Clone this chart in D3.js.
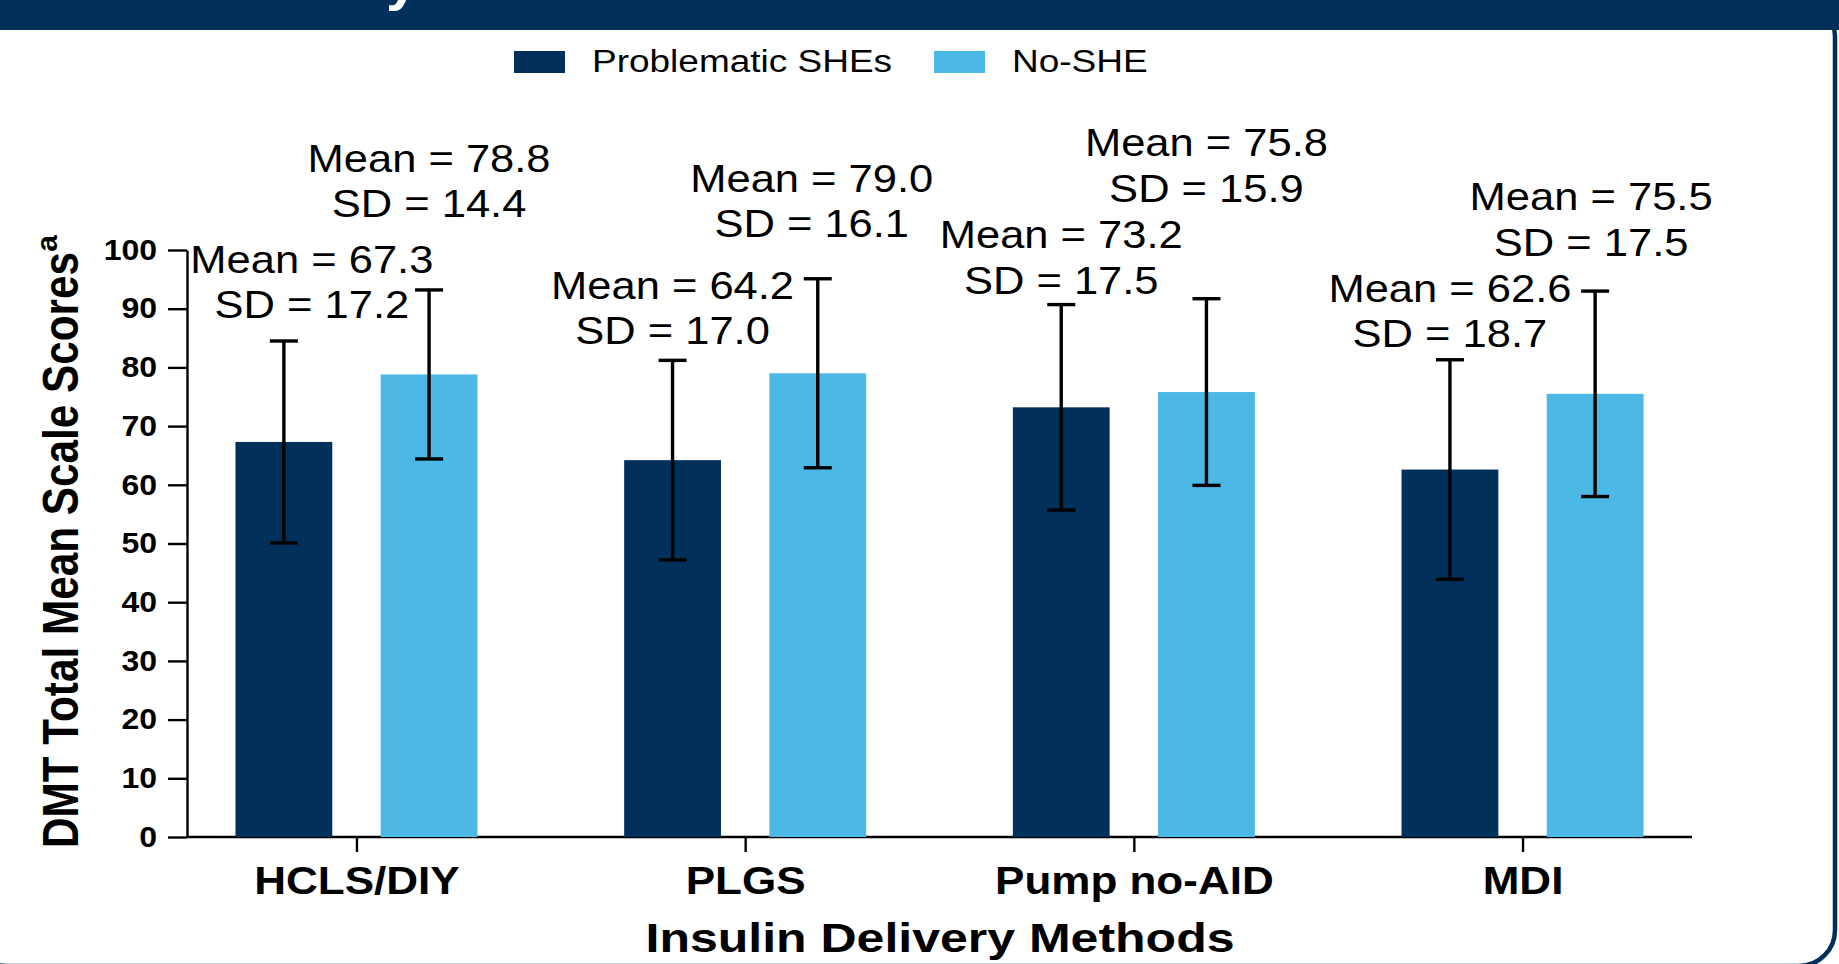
<!DOCTYPE html>
<html>
<head>
<meta charset="utf-8">
<script src="https://cdnjs.cloudflare.com/ajax/libs/d3/7.8.5/d3.min.js"></script>
<style>
  body { margin: 0; background: #fff; }
  svg { display: block; font-family: "Liberation Sans", Arial, Helvetica, sans-serif; }
  .axis path, .axis line { stroke: #000; stroke-width: 2.4; }
</style>
</head>
<body>
<svg id="chart" width="1839" height="964"></svg>
<script>
// data
var categories = ["HCLS/DIY", "PLGS", "Pump no-AID", "MDI"];
var groups = ["Problematic SHEs", "No-SHE"];
var sheMean = [67.3, 64.2, 73.2, 62.6];
var sheSD = [17.2, 17.0, 17.5, 18.7];
var noSheMean = [78.8, 79.0, 75.8, 75.5];
var noSheSD = [14.4, 16.1, 15.9, 17.5];
var yTicks = [0, 10, 20, 30, 40, 50, 60, 70, 80, 90, 100];

var navy = "#01305a", sky = "#4cb8e6";
var colors = [navy, sky];

// where the Mean/SD annotations sit (value of the first baseline) and nudges in px
var labelAt = [[96.1, 91.7, 100.3, 91.2], [113.3, 109.9, 116.0, 106.8]];
var labelDx = [[28, 0, 0, 0], [0, -6, 0, -4]];

var rows = [];
categories.forEach(function(c, i) {
    rows.push({cat: c, g: 0, mean: sheMean[i], sd: sheSD[i], i: i});
    rows.push({cat: c, g: 1, mean: noSheMean[i], sd: noSheSD[i], i: i});
});

// text looks a little flattened in the original, so shrink height and stretch width back
function squash(sel, px, k) {
    sel.style("font-size", (px * k) + "px").each(function() {
        var L = this.getComputedTextLength();
        d3.select(this).attr("textLength", L / k).attr("lengthAdjust", "spacingAndGlyphs");
    });
}

var svg = d3.select("#chart");

// panel frame + header band
svg.append("rect")
    .attr("x", -30).attr("y", 0)
    .attr("width", 1865).attr("height", 966)
    .attr("rx", 36)
    .attr("fill", "none").attr("stroke", navy).attr("stroke-width", 4.5);
svg.append("rect").attr("x", 0).attr("y", 0).attr("width", 1839).attr("height", 30).attr("fill", navy);
// tail of the cut-off title
svg.append("text").attr("x", 386).attr("y", -1)
    .attr("fill", "#fff").style("font-weight", "bold").style("font-size", "58px").text("y");

var x = d3.scalePoint().domain(categories).range([187, 1692]).padding(0.436);
var xg = d3.scaleBand().domain([0, 1]).range([-121, 121]).paddingInner(1 / 3);
var y = d3.scaleLinear().domain([0, 100]).range([837, 250]);

// axes
var yAxis = svg.append("g").attr("class", "axis")
    .attr("transform", "translate(187,0)")
    .call(d3.axisLeft(y).tickValues(yTicks).tickSize(19).tickPadding(11).tickSizeOuter(0));
yAxis.selectAll("text").style("font-weight", "bold").attr("fill", "#000");
squash(yAxis.selectAll("text"), 32, 0.9);

var xAxis = svg.append("g").attr("class", "axis")
    .attr("transform", "translate(0,837)")
    .call(d3.axisBottom(x).tickSize(15).tickSizeOuter(0));
xAxis.select(".domain").attr("d", "M187,0H1692");
xAxis.selectAll("text").attr("dy", 0).attr("y", 57)
    .style("font-weight", "bold").attr("fill", "#000");
squash(xAxis.selectAll("text"), 44, 0.89);

// bars
svg.selectAll(".bar")
    .data(rows)
  .enter().append("rect")
    .attr("class", "bar")
    .attr("x", function(d) { return x(d.cat) + xg(d.g); })
    .attr("width", xg.bandwidth())
    .attr("y", function(d) { return y(d.mean); })
    .attr("height", function(d) { return y(0) - y(d.mean); })
    .attr("fill", function(d) { return colors[d.g]; });

// error bars
var cx = function(d) { return x(d.cat) + xg(d.g) + xg.bandwidth() / 2; };
var err = svg.append("g").attr("stroke", "#000").attr("stroke-width", 3.4);
err.selectAll(".stem").data(rows).enter().append("line")
    .attr("x1", cx).attr("x2", cx)
    .attr("y1", function(d) { return y(d.mean + d.sd); })
    .attr("y2", function(d) { return y(d.mean - d.sd); });
err.selectAll(".capT").data(rows).enter().append("line")
    .attr("x1", function(d) { return cx(d) - 14; }).attr("x2", function(d) { return cx(d) + 14; })
    .attr("y1", function(d) { return y(d.mean + d.sd); })
    .attr("y2", function(d) { return y(d.mean + d.sd); });
err.selectAll(".capB").data(rows).enter().append("line")
    .attr("x1", function(d) { return cx(d) - 14; }).attr("x2", function(d) { return cx(d) + 14; })
    .attr("y1", function(d) { return y(d.mean - d.sd); })
    .attr("y2", function(d) { return y(d.mean - d.sd); });

// annotations
var ann = svg.append("g").attr("text-anchor", "middle").attr("fill", "#000");
var meanText = ann.selectAll(".mean").data(rows).enter().append("text")
    .attr("x", function(d) { return cx(d) + labelDx[d.g][d.i]; })
    .attr("y", function(d) { return y(labelAt[d.g][d.i]); })
    .text(function(d) { return "Mean = " + d.mean.toFixed(1); });
var sdText = ann.selectAll(".sd").data(rows).enter().append("text")
    .attr("x", function(d) { return cx(d) + labelDx[d.g][d.i]; })
    .attr("y", function(d) { return y(labelAt[d.g][d.i]) + 45.5; })
    .text(function(d) { return "SD = " + d.sd.toFixed(1); });
squash(meanText, 43.5, 0.9);
squash(sdText, 43.5, 0.9);

// axis titles
var xt = svg.append("text").attr("x", 940).attr("y", 952).attr("text-anchor", "middle")
    .style("font-weight", "bold").text("Insulin Delivery Methods");
squash(xt, 50, 0.82);

svg.append("text")
    .attr("transform", "translate(78,848) rotate(-90)")
    .style("font-weight", "bold").style("font-size", "50px")
    .attr("textLength", 596).attr("lengthAdjust", "spacingAndGlyphs")
    .text("DMT Total Mean Scale Scores");
svg.append("text")
    .attr("transform", "translate(57,235) rotate(-90)")
    .style("font-weight", "bold").style("font-size", "30px")
    .attr("text-anchor", "end")
    .text("a");

// legend
var legendX = [514, 934];
var leg = svg.append("g");
leg.selectAll("rect").data(groups).enter().append("rect")
    .attr("x", function(d, i) { return legendX[i]; }).attr("y", 51)
    .attr("width", 51).attr("height", 22)
    .attr("fill", function(d, i) { return colors[i]; });
var legText = leg.selectAll("text").data(groups).enter().append("text")
    .attr("x", function(d, i) { return legendX[i] + 78; }).attr("y", 72)
    .text(function(d) { return d; });
squash(legText, 37, 0.85);
</script>
</body>
</html>
